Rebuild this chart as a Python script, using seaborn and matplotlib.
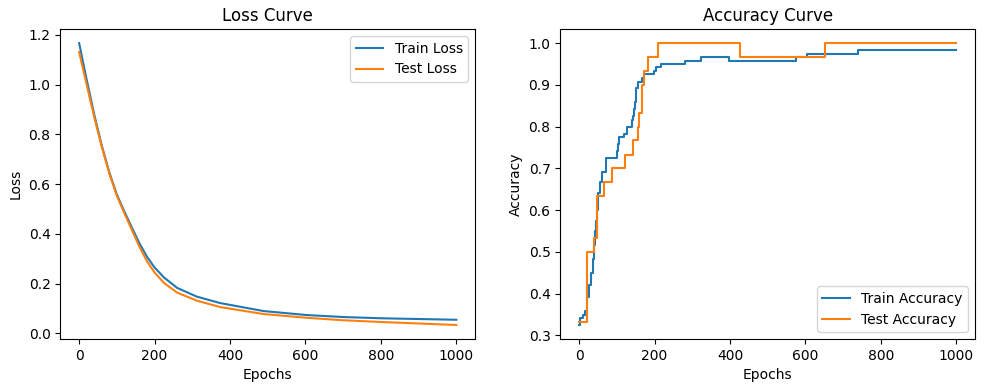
import numpy as np
import pandas as pd
import seaborn as sns
import matplotlib
matplotlib.use("Agg")
import matplotlib.pyplot as plt

# Loss curves (values at selected epochs)
loss_epochs = [0, 20, 40, 60, 80, 100, 120, 140, 160, 180, 200, 225, 260, 312,
               374, 489, 603, 700, 800, 1000]
train_loss = [1.167, 1.020, 0.880, 0.755, 0.648, 0.558, 0.490, 0.425, 0.362, 0.308,
              0.265, 0.225, 0.183, 0.148, 0.122, 0.090, 0.074, 0.066, 0.061, 0.055]
test_loss = [1.131, 1.000, 0.870, 0.750, 0.643, 0.553, 0.483, 0.415, 0.348, 0.290,
             0.245, 0.203, 0.164, 0.132, 0.106, 0.078, 0.063, 0.053, 0.046, 0.034]

# Accuracy curves (change points, drawn as steps)
train_acc_epochs = [0, 3, 10, 15, 21, 25, 32, 36, 40, 43, 45, 48, 51, 56, 60, 62, 71,
                    100, 103, 106, 120, 127, 139, 142, 145, 148, 150, 152, 155, 166,
                    171, 199, 203, 216, 280, 323, 398, 574, 603, 740, 1000]
train_acc = [0.325, 0.342, 0.350, 0.358, 0.392, 0.420, 0.450, 0.483, 0.517, 0.550, 0.575,
             0.600, 0.642, 0.667, 0.683, 0.692, 0.725, 0.742, 0.758, 0.775, 0.783, 0.800,
             0.817, 0.825, 0.842, 0.858, 0.875, 0.892, 0.908, 0.917, 0.925, 0.933, 0.942,
             0.950, 0.958, 0.967, 0.958, 0.967, 0.975, 0.983, 0.983]

test_acc_epochs = [0, 21, 40, 47, 65, 86, 121, 144, 157, 160, 168, 172, 183, 208, 426,
                   653, 1000]
test_acc = [0.333, 0.500, 0.533, 0.633, 0.667, 0.700, 0.733, 0.767, 0.800, 0.833, 0.900,
            0.933, 0.967, 1.000, 0.967, 1.000, 1.000]

blue = "#1f77b4"
orange = "#ff7f0e"

fig, (ax1, ax2) = plt.subplots(1, 2, figsize=(9.88, 3.92), dpi=100)
fig.subplots_adjust(left=0.061, right=0.987, bottom=0.135, top=0.926, wspace=0.205)

# Loss
sns.lineplot(x=loss_epochs, y=train_loss, ax=ax1, color=blue, label="Train Loss")
sns.lineplot(x=loss_epochs, y=test_loss, ax=ax1, color=orange, label="Test Loss")
ax1.set_title("Loss Curve")
ax1.set_xlabel("Epochs")
ax1.set_ylabel("Loss")
ax1.legend(loc="upper right")

# Accuracy
sns.lineplot(x=train_acc_epochs, y=train_acc, ax=ax2, color=blue, label="Train Accuracy",
             drawstyle="steps-post")
sns.lineplot(x=test_acc_epochs, y=test_acc, ax=ax2, color=orange, label="Test Accuracy",
             drawstyle="steps-post")
ax2.set_title("Accuracy Curve")
ax2.set_xlabel("Epochs")
ax2.set_ylabel("Accuracy")
ax2.legend(loc="lower right")

fig.savefig("out.png", dpi=100)
